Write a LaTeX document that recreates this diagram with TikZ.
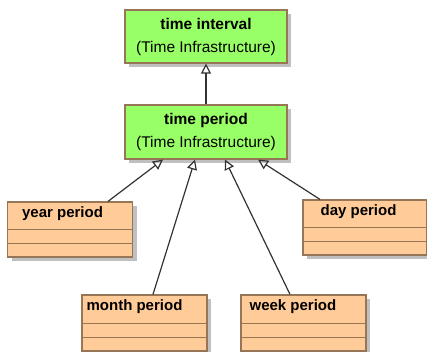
\documentclass[tikz,border=0pt]{standalone}
\usepackage{fontspec}
\setmainfont{Liberation Sans}
\usetikzlibrary{arrows.meta, shadows}

\definecolor{boxgreen}{RGB}{153,255,102}
\definecolor{boxorange}{RGB}{255,204,153}
\definecolor{boxline}{RGB}{150,118,86}
\definecolor{shadowgray}{RGB}{192,192,192}
\definecolor{linkgray}{RGB}{50,50,50}

\begin{document}
\begin{tikzpicture}[x=1pt, y=1pt, >={Triangle[open, length=10pt, width=10pt]},
  box/.style={draw=boxline, line width=1.2pt, rectangle, inner sep=0pt,
    drop shadow={shadow xshift=4pt, shadow yshift=-4pt, fill=shadowgray, opacity=1}},
  grnbox/.style={box, fill=boxgreen, minimum width=162pt, minimum height=53pt,
    align=center, font=\fontsize{15.5}{23}\selectfont},
  clsbox/.style={box, fill=boxorange, minimum width=125pt, minimum height=55pt},
  ttl/.style={anchor=west, inner sep=0pt, font=\fontsize{15}{18}\selectfont\bfseries},
  gen/.style={->, draw=linkgray, line width=1.2pt}]

\useasboundingbox (0,0) rectangle (427,352);

% Infrastructure classes
\node[grnbox] (ti) at (206,315.5) {\textbf{time interval}\\(Time Infrastructure)};
\node[grnbox, minimum height=54pt] (tp) at (206,220) {\textbf{time period}\\(Time Infrastructure)};

% Period classes
\node[clsbox] (yr) at (70,122.5) {};
\node[clsbox, minimum width=124pt] (dy) at (365,124.5) {};
\node[clsbox, minimum height=56pt] (mo) at (144.5,29) {};
\node[clsbox, minimum height=56pt] (wk) at (303.5,29) {};

\node[ttl] (yrt) at ([xshift=15pt, yshift=-12pt]yr.north west) {year period};
\node[ttl] (dyt) at ([xshift=18pt, yshift=-12pt]dy.north west) {day period};
\node[ttl] (mot) at ([xshift=5pt, yshift=-12pt]mo.north west) {month period};
\node[ttl] (wkt) at ([xshift=9pt, yshift=-12pt]wk.north west) {week period};

% Compartments
\foreach \n in {yr, dy, mo, wk}
  \foreach \h in {14, 28}
    \draw[boxline, line width=1.2pt] ([yshift=\h pt]\n.south west) -- ([yshift=\h pt]\n.south east);

% Generalizations
\draw[gen] (tp.north) -- (ti.south);
\draw[gen] ([xshift=38pt]yr.north) -- ([xshift=-43pt]tp.south);
\draw[gen] ([xshift=8.5pt]mo.north) -- ([xshift=-11pt]tp.south);
\draw[gen] ([xshift=-13.5pt]wk.north) -- ([xshift=19pt]tp.south);
\draw[gen] ([xshift=-45pt]dy.north) -- ([xshift=52pt]tp.south);

\end{tikzpicture}
\end{document}
